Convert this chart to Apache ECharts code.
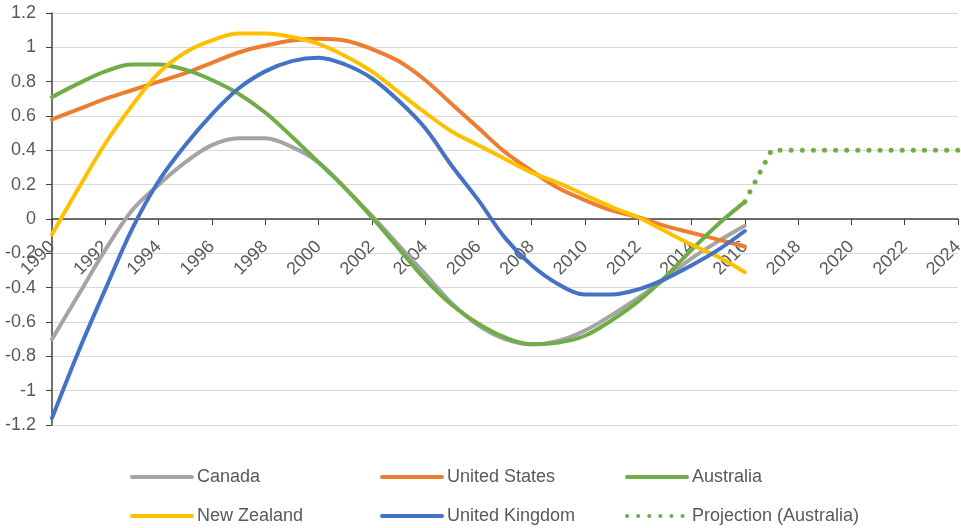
<!DOCTYPE html>
<html>
<head>
<meta charset="utf-8">
<script src="https://cdn.jsdelivr.net/npm/echarts@6/dist/echarts.min.js"></script>
<style>
  html, body { margin: 0; padding: 0; background: #fff; }
  #main { width: 961px; height: 528px; }
</style>
</head>
<body>
<div id="main"></div>
<script>
// categories
var years = ["1990", "1991", "1992", "1993", "1994", "1995", "1996", "1997", "1998", "1999",
  "2000", "2001", "2002", "2003", "2004", "2005", "2006", "2007", "2008", "2009",
  "2010", "2011", "2012", "2013", "2014", "2015", "2016", "2017", "2018", "2019",
  "2020", "2021", "2022", "2023", "2024"];

// 1990 - 2016
var canada = [-0.70, -0.44, -0.18, 0.05, 0.20, 0.33, 0.43, 0.47, 0.47, 0.42,
  0.33, 0.18, 0.02, -0.15, -0.32, -0.49, -0.62, -0.70, -0.73, -0.71,
  -0.65, -0.56, -0.46, -0.35, -0.23, -0.13, -0.04];
var unitedStates = [0.58, 0.64, 0.70, 0.75, 0.80, 0.85, 0.91, 0.97, 1.01, 1.04,
  1.05, 1.04, 0.99, 0.92, 0.81, 0.67, 0.53, 0.39, 0.28, 0.18,
  0.11, 0.05, 0.01, -0.04, -0.08, -0.12, -0.16];
var australia = [0.71, 0.79, 0.86, 0.90, 0.90, 0.87, 0.81, 0.73, 0.62, 0.48,
  0.33, 0.18, 0.01, -0.17, -0.35, -0.50, -0.61, -0.69, -0.73, -0.72,
  -0.68, -0.59, -0.48, -0.34, -0.18, -0.03, 0.10];
var newZealand = [-0.09, 0.18, 0.44, 0.66, 0.85, 0.97, 1.04, 1.08, 1.08, 1.06,
  1.02, 0.95, 0.86, 0.74, 0.62, 0.51, 0.43, 0.35, 0.27, 0.21,
  0.14, 0.07, 0.01, -0.07, -0.15, -0.22, -0.31];
var unitedKingdom = [-1.16, -0.77, -0.41, -0.06, 0.22, 0.43, 0.61, 0.76, 0.86, 0.92,
  0.94, 0.90, 0.82, 0.69, 0.53, 0.31, 0.11, -0.11, -0.27, -0.38,
  -0.44, -0.44, -0.41, -0.35, -0.27, -0.18, -0.07];

// projection (Australia), 2016 - 2024
var projYears = ["2016", "2017", "2018", "2019", "2020", "2021", "2022", "2023", "2024"];
var projValues = [0.10, 0.40, 0.40, 0.40, 0.40, 0.40, 0.40, 0.40, 0.40];

var textColor = "#595959";
var font = "Liberation Sans";

function lineSeries(name, data, color) {
  return {
    name: name,
    type: "line",
    data: data,
    symbol: "none",
    smooth: 0.35,
    lineStyle: { color: color, width: 4, cap: "round" },
    itemStyle: { color: color },
    emphasis: { disabled: true }
  };
}

function legendCol(left, names) {
  return {
    orient: "vertical",
    left: left,
    top: 467,
    padding: 0,
    itemWidth: 60,
    itemHeight: 14,
    itemGap: 19,
    data: names,
    itemStyle: { opacity: 0 },
    lineStyle: { width: 4 },
    textStyle: { color: textColor, fontSize: 18, fontFamily: font, lineHeight: 20 }
  };
}

var chart = echarts.init(document.getElementById("main"));
chart.setOption({
  animation: false,
  backgroundColor: "#fff",
  grid: { left: 52, right: 3, top: 13, bottom: 103, outerBoundsMode: "none" },
  legend: [
    legendCol(130, ["Canada", "New Zealand"]),
    legendCol(380, ["United States", "United Kingdom"]),
    legendCol(625, ["Australia", "Projection (Australia)"])
  ],
  xAxis: {
    type: "category",
    data: years,
    boundaryGap: false,
    position: "bottom",
    offset: -206,
    axisLine: { onZero: false, lineStyle: { color: "#404040", width: 1.5 } },
    axisTick: { interval: 1, length: 6, lineStyle: { color: "#404040" } },
    axisLabel: {
      interval: 1,
      rotate: 45,
      margin: 25,
      color: textColor,
      fontSize: 18,
      fontFamily: font
    },
    splitLine: { show: false }
  },
  yAxis: {
    type: "value",
    min: -1.2,
    max: 1.2,
    interval: 0.2,
    axisLine: { show: true, onZero: false, lineStyle: { color: "#404040", width: 1.5 } },
    axisTick: { show: true, length: 6, lineStyle: { color: "#404040" } },
    axisLabel: {
      margin: 16,
      color: textColor,
      fontSize: 18,
      fontFamily: font,
      formatter: function (v) { return String(Math.round(v * 10) / 10); }
    },
    splitLine: { lineStyle: { color: "#d9d9d9", width: 1 } }
  },
  series: [
    lineSeries("Canada", canada, "#a5a5a5"),
    lineSeries("United States", unitedStates, "#ed7d31"),
    lineSeries("Australia", australia, "#70ad47"),
    lineSeries("New Zealand", newZealand, "#ffc000"),
    lineSeries("United Kingdom", unitedKingdom, "#4472c4"),
    {
      name: "Projection (Australia)",
      type: "line",
      data: projYears.map(function (y, i) { return [y, projValues[i]]; }),
      symbol: "none",
      lineStyle: { color: "#70ad47", width: 5, type: [0.1, 11], cap: "round" },
      itemStyle: { color: "#70ad47" },
      emphasis: { disabled: true }
    }
  ]
});
</script>
</body>
</html>
